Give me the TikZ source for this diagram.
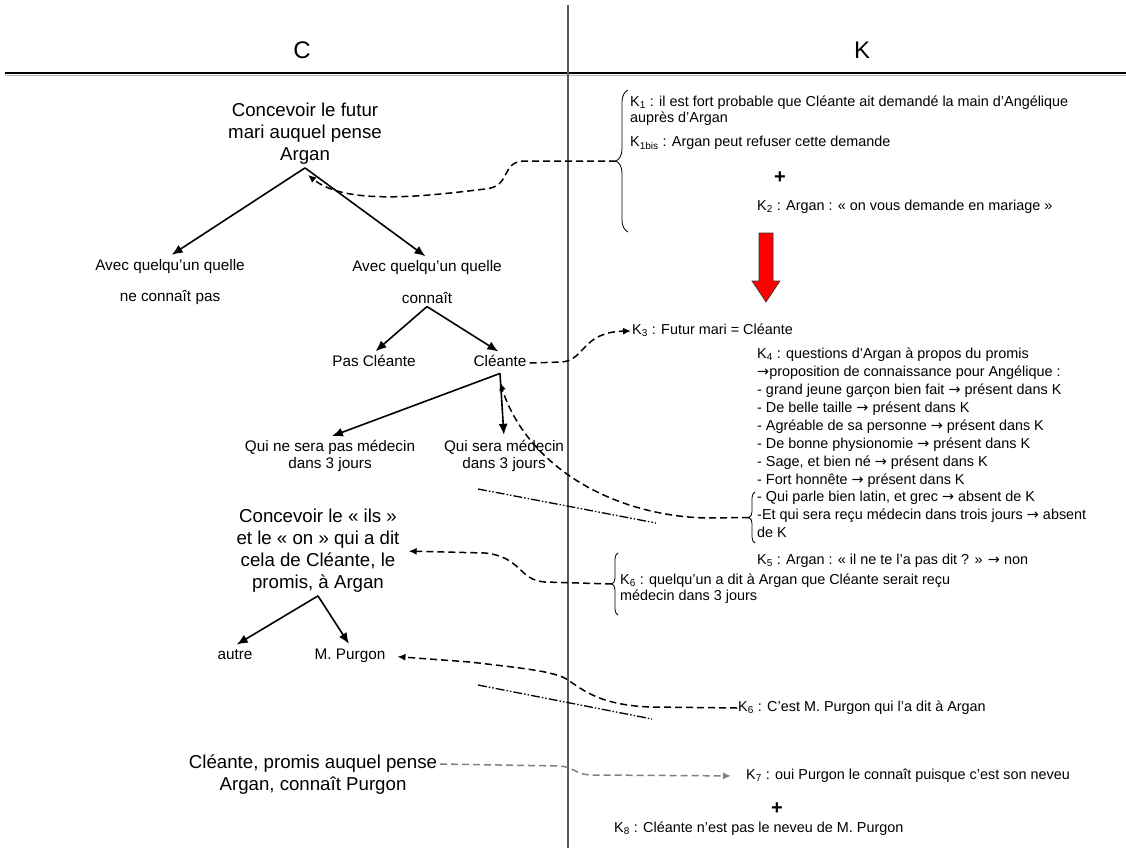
\documentclass[tikz,border=0pt]{standalone}
\usepackage{fontspec}
\setmainfont{Liberation Sans}
\newfontfamily\arrowfont{DejaVu Sans}
\usetikzlibrary{arrows.meta,decorations.pathreplacing}
\newcommand{\bigtxt}{\fontsize{18.67}{22}\selectfont}
\newcommand{\smtxt}{\fontsize{15.3}{17.5}\selectfont}
\newcommand{\ktxt}{\fontsize{14.4}{16}\selectfont}
\newcommand{\fl}{{\arrowfont →}}
\begin{document}
\begin{tikzpicture}[x=1pt,y=-1pt,
		tree/.style={line width=1.6pt,-{Latex[length=11pt,width=9pt]},shorten >=2pt},
		link/.style={line width=1.5pt,dash pattern=on 7pt off 4pt,-{Latex[length=8pt,width=7pt]}},
		glink/.style={link,gray},
		dashdot/.style={line width=1.3pt,dash pattern=on 9pt off 2pt on 1.5pt off 2pt on 1.5pt off 2pt},
		kbrace/.style={decorate,decoration={brace,amplitude=#1},line width=.8pt},
		ctext/.style={align=center,inner sep=3pt,font=\smtxt},
		cword/.style={ctext,text height=11pt,text depth=3.5pt},
		ktext/.style={anchor=west,align=left,inner sep=1pt,font=\ktxt,text height=10.5pt,text depth=3pt}]
		\useasboundingbox (0,0) rectangle (1126,848);
		\draw [line width=1.2pt] (5,73) -- (1126,73);
		\draw [gray!60,line width=.8pt] (5,75.5) -- (1126,75.5);
		\draw [black!65,line width=1.2pt] (568,5) -- (568,848);
		\node (C) at (302,50) {\fontsize{24}{24}\selectfont C};
		\node (K) at (862,50) {\fontsize{24}{24}\selectfont K};

		% cote C
		\node [align=center,font=\bigtxt,inner sep=3pt] (futur) at (305,134) {Concevoir le futur\\mari auquel pense\\Argan};
		\node [ctext] (avecA) at (170,282) {Avec quelqu’un quelle\\[14pt]ne connaît pas};
		\node [ctext] (avecB) at (427,282) {Avec quelqu’un quelle\\[14pt]connaît};
		\node [cword] (pas) at (374,363) {Pas Cléante};
		\node [cword] (cle) at (500,363) {Cléante};
		\node [ctext] (nonmed) at (330,456) {Qui ne sera pas médecin\\dans 3 jours};
		\node [ctext] (med) at (504,456) {Qui sera médecin\\dans 3 jours};
		\node [align=center,font=\bigtxt,inner sep=3pt] (ils) at (318,551) {Concevoir le « ils »\\et le « on » qui a dit\\cela de Cléante, le\\promis, à Argan};
		\node [cword] (autre) at (235,656) {autre};
		\node [cword] (purgon) at (350,656) {M. Purgon};
		\node [align=center,font=\bigtxt,inner sep=3pt] (promis) at (313,775) {Cléante, promis auquel pense\\Argan, connaît Purgon};

		\draw [tree] (futur.south) -- (avecA.north);
		\draw [tree] (futur.south) -- (avecB.north);
		\draw [tree] (avecB.south) -- (pas.north);
		\draw [tree] (avecB.south) -- (cle.north);
		\draw [tree] (cle.south) -- (nonmed.north);
		\draw [tree] (cle.south) -- (med.north);
		\draw [tree] (ils.south) -- (autre.north);
		\draw [tree] (ils.south) -- (purgon.north);

		% cote K
		\node [ktext] (k1) at (629,119) {K\textsubscript{1} : il est fort probable que Cléante ait demandé la main d’Angélique\\auprès d’Argan};
		\node [ktext] (k1bis) at (629,143) {K\textsubscript{1bis} : Argan peut refuser cette demande};
		\node (plusA) at (780,178) {\fontsize{20}{20}\selectfont\bfseries +};
		\node [ktext] (k2) at (756,207) {K\textsubscript{2} : Argan : « on vous demande en mariage »};
		\draw [kbrace=12pt] (628,232) -- (628,90) coordinate [midway,xshift=-12pt] (b1);
		\filldraw [fill=red,draw=black!80,line width=.6pt] (759,233) -- (773,233) -- (773,281) -- (780,281) -- (766,302) -- (752,281) -- (759,281) -- cycle;
		\node [ktext] (k3) at (631,331) {K\textsubscript{3} : Futur mari = Cléante};
		\foreach \txt [count=\i] in {K\textsubscript{4} : questions d’Argan à propos du promis,
			\fl proposition de connaissance pour Angélique :,
			- grand jeune garçon bien fait \fl{} présent dans K,
			- De belle taille \fl{} présent dans K,
			- Agréable de sa personne \fl{} présent dans K,
			- De bonne physionomie \fl{} présent dans K,
			{- Sage, et bien né \fl{} présent dans K},
			- Fort honnête \fl{} présent dans K,
			{- Qui parle bien latin, et grec \fl{} absent de K},
			-Et qui sera reçu médecin dans trois jours \fl{} absent,
			de K} {
			\node [ktext] (k4l\i) at (756,355+17.9*\i-17.9) {\txt};
		}
		\draw [kbrace=6pt] (755,543) -- (755,492) coordinate [midway,xshift=-6pt] (b2);
		\node [ktext] (k5) at (756,561) {K\textsubscript{5} : Argan : « il ne te l’a pas dit ? » \fl{} non};
		\node [ktext] (k6) at (619,597) {K\textsubscript{6} : quelqu’un a dit à Argan que Cléante serait reçu\\médecin dans 3 jours};
		\draw [kbrace=6pt] (618,615) -- (618,553) coordinate [midway,xshift=-6pt] (b3);
		\node [ktext] (k6b) at (737,708) {K\textsubscript{6} : C’est M. Purgon qui l’a dit à Argan};
		\node [ktext] (k7) at (745,776) {K\textsubscript{7} : oui Purgon le connaît puisque c’est son neveu};
		\node (plusB) at (777,809) {\fontsize{20}{20}\selectfont\bfseries +};
		\node [ktext] (k8) at (613,829) {K\textsubscript{8} : Cléante n’est pas le neveu de M. Purgon};

		% liens
		\draw [link] (b1) -- (525,161) .. controls (500,161) and (512,187) .. (485,189) .. controls (420,197) and (345,205) .. ([xshift=3pt,yshift=-7pt]futur.south);
		\draw [link] (cle.east) -- (562,362) .. controls (585,360) and (582,332) .. (k3.west);
		\draw [link] (b2) -- (705,518) .. controls (610,515) and (527,465) .. ([yshift=-9pt]cle.south);
		\draw [link,shorten >=6pt] (b3) -- (545,582) .. controls (518,580) and (522,557) .. (485,553) -- (ils.east);
		\draw [link,shorten >=9pt] (k6b.west) -- (650,707) .. controls (600,705) and (583,690) .. (568,680) .. controls (555,671) and (520,668) .. (470,662) -- (purgon.east);
		\draw [glink,shorten >=14pt] ([yshift=11pt]promis.east) -- (560,766) .. controls (574,767) and (576,775) .. (592,775) -- (k7.west);
		\draw [dashdot] (478,489) -- (656,523);
		\draw [dashdot] (478,685) -- (652,719);
	\end{tikzpicture}
\end{document}
